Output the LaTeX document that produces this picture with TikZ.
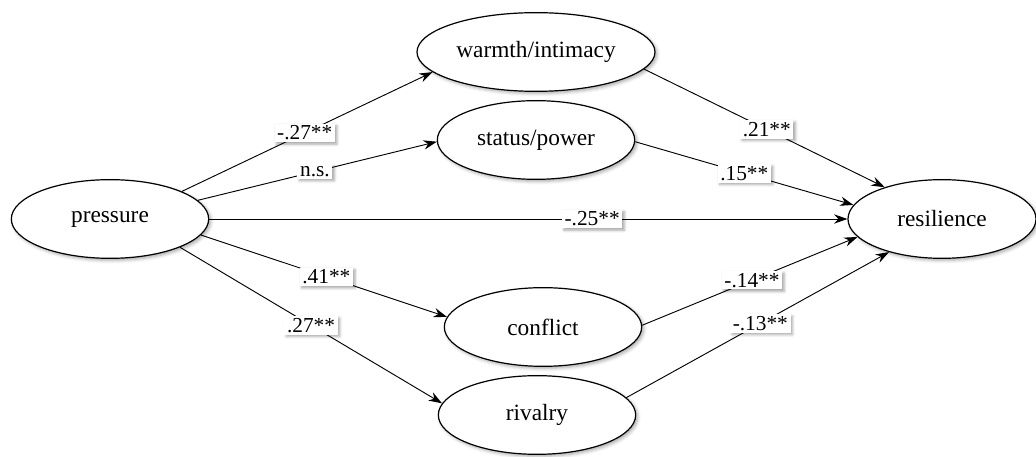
\documentclass[tikz,border=0pt]{standalone}
\usepackage{fontspec}
\setmainfont{Liberation Serif}
\usetikzlibrary{shapes.geometric,arrows.meta,shadows.blur}

\begin{document}
\begin{tikzpicture}[x=0.75pt,y=0.75pt,
  latent/.style={ellipse, draw, line width=0.9pt, fill=white,
    minimum width=148pt, minimum height=59pt,
    font=\fontsize{17.5}{20}\selectfont,
    blur shadow={shadow xshift=1.5pt, shadow yshift=-1.5pt,
      shadow blur radius=2.5pt, shadow opacity=35}},
  effect/.style={-{Stealth[length=10pt,width=7pt]}, line width=0.7pt},
  coef/.style={fill=white, inner xsep=2pt, inner ysep=1.5pt,
    font=\fontsize{16}{18}\selectfont,
    blur shadow={shadow xshift=1.5pt, shadow yshift=-1.5pt,
      shadow blur radius=2pt, shadow opacity=35}}]

  \useasboundingbox (0,0) rectangle (1036,457);

  % latent variables
  \node[latent] (pressure)   at (110,238) {pressure};
  \node[latent] (warmth)     at (536,405) {warmth/intimacy};
  \node[latent] (status)     at (536,317) {status/power};
  \node[latent] (conflict)   at (543,130) {conflict};
  \node[latent] (rivalry)    at (537,42)  {rivalry};
  \node[latent, minimum width=141pt] (resilience) at (942,238) {resilience};

  % paths from pressure
  \draw[effect] (pressure.21) -- (warmth.191)
    node[coef, pos=0.49] {-.27**};
  \draw[effect] (pressure.12) -- (status.181)
    node[coef, pos=0.49] {n.s.};
  \draw[effect] (pressure.0) -- (resilience.180)
    node[coef, pos=0.6] {-.25**};
  \draw[effect] (pressure.-10) -- (conflict.174)
    node[coef, pos=0.51] {.41**};
  \draw[effect] (pressure.-22) -- (rivalry.173)
    node[coef, pos=0.5] {.27**};

  % paths to resilience
  \draw[effect] (warmth.-9) -- (resilience.151)
    node[coef, pos=0.51] {.21**};
  \draw[effect] (status.-1) -- (resilience.171)
    node[coef, pos=0.5] {.15**};
  \draw[effect] (conflict.1) -- (resilience.192)
    node[coef, pos=0.51] {-.14**};
  \draw[effect] (rivalry.11) -- (resilience.212)
    node[coef, pos=0.51] {-.13**};

\end{tikzpicture}
\end{document}
